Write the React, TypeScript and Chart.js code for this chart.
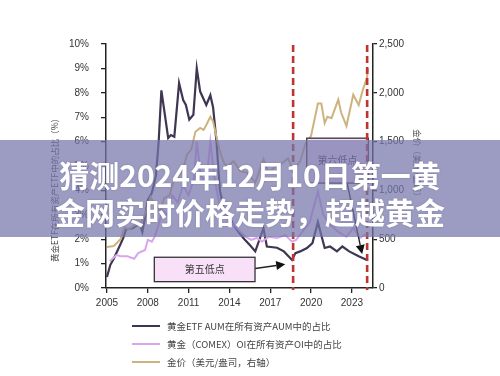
import React, { useEffect, useRef } from "react";
import { Chart, registerables } from "chart.js";
Chart.register(...registerables);

const xTickYears = [2005, 2008, 2011, 2014, 2017, 2020, 2023];
const leftTicks = [0, 1, 2, 3, 4, 5, 6, 7, 8, 9, 10];
const rightTicks = [0, 500, 1000, 1500, 2000, 2500];

const etfYears = [2005.0, 2005.25, 2005.5, 2006.0, 2006.2, 2006.4, 2006.9, 2007.4, 2007.6, 2007.8, 2008.0, 2008.3, 2008.6, 2008.8, 2009.0, 2009.5, 2009.7, 2009.95, 2010.3, 2010.6, 2010.8, 2011.05, 2011.35, 2011.6, 2011.85, 2012.3, 2012.6, 2012.8, 2013.05, 2013.3, 2013.6, 2014.0, 2014.4, 2014.8, 2015.1, 2015.5, 2015.9, 2016.5, 2016.75, 2017.5, 2018.0, 2018.6, 2018.85, 2019.2, 2019.7, 2020.1, 2020.5, 2021.0, 2021.4, 2021.9, 2022.3, 2022.8, 2023.5, 2024.1];
const etfShare = [0.45, 0.95, 1.2, 1.8, 2.05, 2.4, 2.45, 2.65, 2.3, 2.9, 3.6, 3.9, 4.6, 6.0, 8.1, 6.15, 6.27, 6.2, 8.4, 7.7, 7.5, 6.9, 7.1, 9.0, 8.05, 7.5, 7.9, 7.4, 6.0, 4.0, 3.2, 2.9, 2.5, 2.2, 2.0, 1.76, 1.5, 2.45, 1.7, 1.65, 1.5, 1.15, 1.43, 1.5, 1.64, 1.84, 2.7, 1.64, 1.7, 1.5, 1.7, 1.5, 1.3, 1.15];

const oiYears = [2005.2, 2005.7, 2006.0, 2006.5, 2007.0, 2007.3, 2007.8, 2008.0, 2008.3, 2008.5, 2008.8, 2009.1, 2009.4, 2009.8, 2010.2, 2010.6, 2011.0, 2011.4, 2011.6, 2011.9, 2012.3, 2012.6, 2012.9, 2013.3, 2013.8, 2014.3, 2014.8, 2015.2, 2015.6, 2016.0, 2016.4, 2016.9, 2017.5, 2018.1, 2018.6, 2018.9, 2019.5, 2019.9, 2020.5, 2020.9, 2021.4, 2022.0, 2022.6, 2023.1, 2023.6, 2024.0];
const oiShare = [1.1, 1.35, 1.3, 1.3, 1.2, 1.43, 1.56, 1.97, 1.9, 2.1, 2.6, 3.2, 3.0, 3.8, 3.5, 4.2, 3.8, 4.5, 6.0, 4.6, 4.3, 6.0, 4.5, 3.3, 2.9, 2.6, 2.3, 2.1, 1.97, 2.05, 1.9, 2.1, 2.05, 2.17, 1.9, 1.97, 2.4, 2.7, 3.95, 3.0, 2.6, 2.3, 2.1, 2.46, 2.05, 2.2];

const goldYears = [2005.0, 2005.5, 2006.0, 2006.3, 2006.6, 2007.0, 2007.5, 2007.9, 2008.2, 2008.7, 2008.9, 2009.2, 2009.6, 2009.9, 2010.3, 2010.6, 2010.9, 2011.2, 2011.5, 2011.85, 2012.1, 2012.3, 2012.6, 2012.8, 2013.05, 2013.3, 2013.6, 2013.9, 2014.3, 2014.8, 2015.3, 2015.9, 2016.5, 2016.9, 2017.4, 2017.9, 2018.3, 2018.7, 2019.2, 2019.6, 2020.0, 2020.5, 2020.75, 2021.0, 2021.2, 2021.5, 2022.0, 2022.2, 2022.6, 2023.1, 2023.5, 2023.8, 2024.1, 2024.2];
const goldPrice = [420, 430, 500, 620, 600, 640, 670, 790, 930, 820, 780, 920, 950, 1100, 1150, 1230, 1370, 1420, 1600, 1640, 1620, 1670, 1755, 1705, 1550, 1400, 1280, 1250, 1300, 1200, 1180, 1080, 1320, 1180, 1250, 1280, 1330, 1200, 1300, 1480, 1560, 1890, 1890, 1690, 1755, 1740, 1930, 1800, 1660, 1980, 1875, 2030, 2150, 2250];

const seriesLabels = ["黄金ETF AUM在所有资产AUM中的占比", "黄金（COMEX）OI在所有资产OI中的占比", "金价（美元/盎司，右轴）"];
const seriesColors = ["#3f3652", "#d9a6ec", "#cdb47e"];

const lowLineYears = [2018.68, 2024.12];
const boxLabels = ["第五低点", "第六低点"];
const boxX0 = [2008.48, 2019.68];
const boxX1 = [2015.88, 2024.21];
const boxY0 = [0.26, 4.3];
const boxY1 = [1.26, 6.14];
const arrowFrom = [[2015.9, 0.8], [2022.65, 4.3]];
const arrowTo = [[2018.1, 0.97], [2023.75, 1.39]];

const leftTitle = "黄金ETF在所有资产ETF中的占比（%）";
const rightTitle = "金价（美元/盎司）";
const bannerLines = ["猜测2024年12月10日第一黄", "金网实时价格走势，超越黄金"];

const toPts = (xs: number[], ys: number[]) => xs.map((x, i) => ({ x, y: ys[i] }));

const annotPlugin = {
  id: "annot",
  afterDatasetsDraw(chart: any) {
    const { ctx, chartArea, scales } = chart;
    const sx = scales.x;
    const sy = scales.y;
    ctx.save();
    // boxes
    boxLabels.forEach((lab, i) => {
      const l = sx.getPixelForValue(boxX0[i]);
      const r = sx.getPixelForValue(boxX1[i]);
      const t = sy.getPixelForValue(boxY1[i]);
      const b = sy.getPixelForValue(boxY0[i]);
      ctx.fillStyle = "#f8e0f8";
      ctx.fillRect(l, t, r - l, b - t);
      ctx.strokeStyle = "#333";
      ctx.lineWidth = 1.3;
      ctx.strokeRect(l, t, r - l, b - t);
      ctx.fillStyle = "#333";
      ctx.font = '10px "Noto Sans CJK SC"';
      ctx.textAlign = "center";
      ctx.textBaseline = "middle";
      ctx.fillText(lab, (l + r) / 2, (t + b) / 2);
    });
    // arrows
    arrowFrom.forEach((f, i) => {
      const x1 = sx.getPixelForValue(f[0]);
      const y1 = sy.getPixelForValue(f[1]);
      const x2 = sx.getPixelForValue(arrowTo[i][0]);
      const y2 = sy.getPixelForValue(arrowTo[i][1]);
      const ang = Math.atan2(y2 - y1, x2 - x1);
      const hl = 9, hw = 4.5;
      const bx = x2 - hl * Math.cos(ang);
      const by = y2 - hl * Math.sin(ang);
      ctx.strokeStyle = "#222";
      ctx.lineWidth = 1.4;
      ctx.beginPath();
      ctx.moveTo(x1, y1);
      ctx.lineTo(bx, by);
      ctx.stroke();
      ctx.fillStyle = "#111";
      ctx.beginPath();
      ctx.moveTo(x2, y2);
      ctx.lineTo(bx + hw * Math.sin(ang), by - hw * Math.cos(ang));
      ctx.lineTo(bx - hw * Math.sin(ang), by + hw * Math.cos(ang));
      ctx.closePath();
      ctx.fill();
    });
    // red dashed lines
    lowLineYears.forEach((v) => {
      const px = sx.getPixelForValue(v);
      ctx.strokeStyle = "#bf3330";
      ctx.lineWidth = 2.6;
      ctx.setLineDash([7, 4]);
      ctx.beginPath();
      ctx.moveTo(px, chartArea.top + 1);
      ctx.lineTo(px, chartArea.bottom + 2);
      ctx.stroke();
    });
    ctx.setLineDash([]);
    // axis titles
    ctx.fillStyle = "#444";
    ctx.font = '8.5px "Noto Sans CJK SC"';
    ctx.textAlign = "center";
    ctx.textBaseline = "middle";
    ctx.save();
    ctx.translate(55, 188);
    ctx.rotate(-Math.PI / 2);
    ctx.fillText(leftTitle, 0, 0);
    ctx.restore();
    ctx.save();
    ctx.translate(417, 165);
    ctx.rotate(Math.PI / 2);
    ctx.fillText(rightTitle, 0, 0);
    ctx.restore();
    ctx.restore();
  },
};

export default function App() {
  const ref = useRef<HTMLCanvasElement | null>(null);
  useEffect(() => {
    if (!ref.current) return;
    const tickFont = { family: '"Liberation Sans", Arial, sans-serif', size: 10 };
    const chart = new Chart(ref.current, {
      type: "line",
      data: {
        datasets: [
          {
            label: seriesLabels[1],
            data: toPts(oiYears, oiShare),
            borderColor: seriesColors[1],
            borderWidth: 2,
            pointRadius: 0,
            yAxisID: "y",
          },
          {
            label: seriesLabels[2],
            data: toPts(goldYears, goldPrice),
            borderColor: seriesColors[2],
            borderWidth: 2,
            pointRadius: 0,
            yAxisID: "y2",
          },
          {
            label: seriesLabels[0],
            data: toPts(etfYears, etfShare),
            borderColor: seriesColors[0],
            borderWidth: 2.2,
            pointRadius: 0,
            yAxisID: "y",
          },
        ],
      },
      options: {
        animation: false,
        responsive: false,
        events: [],
        layout: { padding: { top: 44, left: 0, right: 0, bottom: 0 } },
        plugins: { legend: { display: false }, tooltip: { enabled: false } },
        scales: {
          x: {
            type: "linear",
            min: 2004.93,
            max: 2024.55,
            afterBuildTicks: (s: any) => {
              s.ticks = xTickYears.map((value) => ({ value }));
            },
            afterFit: (s: any) => {
              s.height = 88;
            },
            grid: { drawOnChartArea: false, drawTicks: true, tickLength: 5, tickColor: "#222", lineWidth: 1.3 },
            border: { display: true, color: "#222", width: 1.5 },
            ticks: { color: "#333", font: tickFont, padding: 4, maxRotation: 0, callback: (v: any) => String(v) },
          },
          y: {
            position: "left",
            min: 0,
            max: 10,
            afterBuildTicks: (s: any) => {
              s.ticks = leftTicks.map((value) => ({ value }));
            },
            afterFit: (s: any) => {
              s.width = 106;
            },
            grid: { drawOnChartArea: false, drawTicks: true, tickLength: 5, tickColor: "#222", lineWidth: 1.3 },
            border: { display: true, color: "#222", width: 1.5 },
            ticks: { color: "#333", font: tickFont, padding: 12, callback: (v: any) => v + "%" },
          },
          y2: {
            position: "right",
            min: 0,
            max: 2500,
            afterBuildTicks: (s: any) => {
              s.ticks = rightTicks.map((value) => ({ value }));
            },
            afterFit: (s: any) => {
              s.width = 127;
            },
            grid: { drawOnChartArea: false, drawTicks: true, tickLength: 4, tickColor: "#222", lineWidth: 1.3 },
            border: { display: true, color: "#222", width: 1.5 },
            ticks: { color: "#333", font: tickFont, padding: 2, callback: (v: any) => Number(v).toLocaleString("en-US") },
          },
        },
      } as any,
      plugins: [annotPlugin],
    });
    return () => chart.destroy();
  }, []);

  const legendOrder = [0, 1, 2];
  return (
    <div style={{ position: "fixed", left: 0, top: 0, width: 500, height: 376, background: "#fff", overflow: "hidden" }}>
      <canvas ref={ref} width={500} height={376} style={{ position: "absolute", left: 0, top: 0 }} />
      <div style={{ position: "absolute", left: 132, top: 317 }}>
        {legendOrder.map((i) => (
          <div key={i} style={{ display: "flex", alignItems: "center", height: 18 }}>
            <div style={{ width: 28, height: i === 0 ? 2.5 : 2, background: seriesColors[i], marginRight: 7 }} />
            <span style={{ fontFamily: '"Noto Sans CJK SC", sans-serif', fontSize: 9.5, color: "#444", whiteSpace: "nowrap" }}>
              {seriesLabels[i]}
            </span>
          </div>
        ))}
      </div>
      <div
        style={{
          position: "absolute",
          left: 0,
          top: 140,
          width: 500,
          height: 97,
          background: "rgba(118,118,172,0.72)",
          boxSizing: "border-box",
          paddingTop: 16,
          textAlign: "center",
          color: "#fff",
          fontFamily: '"Noto Sans CJK SC", sans-serif',
          fontWeight: 700,
          fontSize: 30,
          lineHeight: "37px",
          textShadow: "0 0 2px rgba(60,60,90,0.35)",
        }}
      >
        {bannerLines.map((t, i) => (
          <div key={i}>{t}</div>
        ))}
      </div>
    </div>
  );
}
